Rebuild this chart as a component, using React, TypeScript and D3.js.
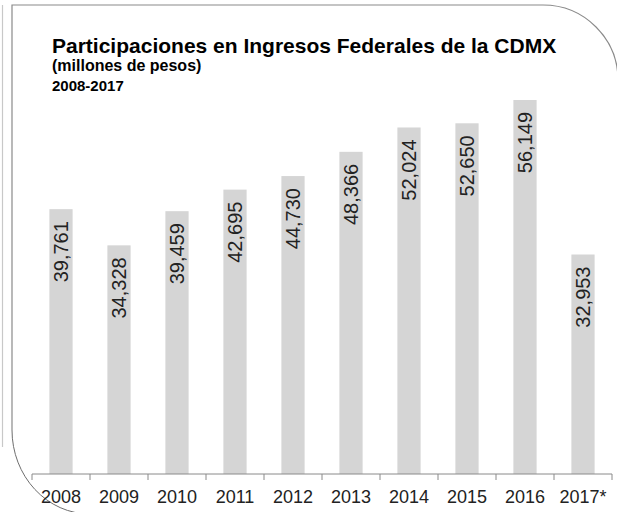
import React, { useEffect, useRef } from "react";
import * as d3 from "d3";

const years = ["2008", "2009", "2010", "2011", "2012", "2013", "2014", "2015", "2016", "2017*"];
const ingresos = [39761, 34328, 39459, 42695, 44730, 48366, 52024, 52650, 56149, 32953];

const title = "Participaciones en Ingresos Federales de la CDMX";
const subtitle = "(millones de pesos)";
const period = "2008-2017";

const FONT = "'Liberation Sans', Arial, sans-serif";

export default function App() {
    const ref = useRef<SVGSVGElement | null>(null);

    useEffect(() => {
        const node = ref.current;
        if (!node) return;
        const width = 617, height = 512;
        const svg = d3.select(node);
        svg.selectAll("*").remove();

        svg.append("rect").attr("width", width).attr("height", height).attr("fill", "#fff");

        // frame with rounded corners
        svg.append("path")
            .attr("d", "M2.5,5 L2.5,447")
            .attr("fill", "none")
            .attr("stroke", "#c8c8c8")
            .attr("stroke-width", 1.2);
        svg.append("path")
            .attr("d", "M12,430 L12,5 L543,5 A75,75 0 0 1 618,80")
            .attr("fill", "none")
            .attr("stroke", "#8a8a8a")
            .attr("stroke-width", 1.2);
        svg.append("path")
            .attr("d", "M12,430 A78,84 0 0 0 90,514")
            .attr("fill", "none")
            .attr("stroke", "#6e6e6e")
            .attr("stroke-width", 1);

        const margin = {top: 100, left: 32, right: 5, bottom: 38};
        const x = d3.scaleBand().domain(years).range([margin.left, width - margin.right]).paddingInner(0.6).paddingOuter(0.3);
        const y = d3.scaleLinear().domain([0, d3.max(ingresos) as number]).range([height - margin.bottom, margin.top]);

        const g = svg.append("g");
        g.selectAll("rect.bar")
            .data(ingresos)
            .enter().append("rect")
            .attr("class", "bar")
            .attr("x", (d, i) => x(years[i]) as number)
            .attr("y", d => y(d))
            .attr("width", x.bandwidth())
            .attr("height", d => y(0) - y(d))
            .attr("fill", "#d5d5d5");

        g.selectAll("text.val")
            .data(ingresos)
            .enter().append("text")
            .attr("class", "val")
            .attr("transform", (d, i) => `translate(${(x(years[i]) as number) + x.bandwidth() / 2},${y(d) + 12}) rotate(-90)`)
            .attr("dy", "0.35em")
            .attr("text-anchor", "end")
            .style("font-family", FONT)
            .style("font-size", "20px")
            .style("fill", "#222")
            .text(d => d3.format(",")(d));

        // axis: ticks on band boundaries
        const axis = svg.append("g").attr("transform", `translate(0,${y(0)})`);
        axis.append("line")
            .attr("x1", margin.left).attr("x2", width - margin.right)
            .attr("stroke", "#8a8a8a");
        const step = x.step();
        const bounds = years.map((d, i) => margin.left + i * step).concat([margin.left + years.length * step]);
        axis.selectAll("line.tick")
            .data(bounds)
            .enter().append("line")
            .attr("class", "tick")
            .attr("x1", d => d).attr("x2", d => d)
            .attr("y1", 0).attr("y2", 6)
            .attr("stroke", "#8a8a8a");
        axis.selectAll("text.lab")
            .data(years)
            .enter().append("text")
            .attr("class", "lab")
            .attr("x", d => (x(d) as number) + x.bandwidth() / 2)
            .attr("y", 29)
            .attr("text-anchor", "middle")
            .style("font-family", FONT)
            .style("font-size", "18px")
            .style("fill", "#222")
            .text(d => d);

        // titles
        svg.append("text")
            .attr("x", 52).attr("y", 53)
            .style("font-family", FONT)
            .style("font-size", "21px")
            .style("font-weight", "bold")
            .style("fill", "#000")
            .text(title);
        svg.append("text")
            .attr("x", 52).attr("y", 71)
            .style("font-family", FONT)
            .style("font-size", "16px")
            .style("font-weight", "bold")
            .style("fill", "#000")
            .text(subtitle);
        svg.append("text")
            .attr("x", 52).attr("y", 91)
            .style("font-family", FONT)
            .style("font-size", "15px")
            .style("font-weight", "bold")
            .style("fill", "#000")
            .text(period);
    }, []);

    return (
        <svg ref={ref} width={617} height={512}
            style={{position: "absolute", left: 0, top: 0, display: "block"}} />
    );
}
